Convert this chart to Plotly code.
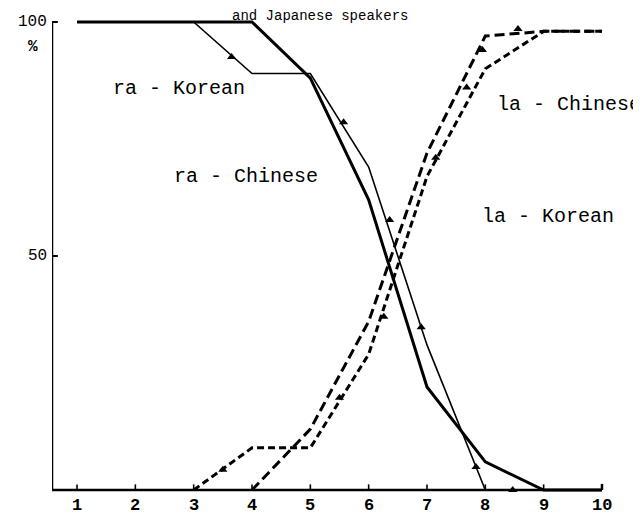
import plotly.graph_objects as go

# ---- data ----
steps = [1, 2, 3, 4, 5, 6, 7, 8, 9, 10]
ra_chinese = [100, 100, 100, 100, 88, 62, 22, 6, 0, 0]
ra_korean = [100, 100, 100, 89, 89, 69, 31, 0, 0, 0]
la_korean = [None, None, 0, 9, 9, 29, 67, 90, 98, 98]
la_chinese = [None, None, None, 0, 13, 36, 72, 97, 98, 98]

ra_korean_mk_x = [3.65, 5.57, 6.36, 6.9, 7.84, 8.47]
ra_korean_mk_y = [92.5, 78.6, 57.7, 34.8, 4.9, 0]
la_korean_mk_x = [3.5, 5.5, 6.26, 7.15]
la_korean_mk_y = [4.3, 19.7, 37, 71]
la_chinese_mk_x = [7.68, 7.95, 8.56]
la_chinese_mk_y = [86, 94, 98.5]

x_tick_labels = [str(s) for s in steps]
y_ticks = [50, 100]
y_tick_labels = ["50", "100"]

title_text = "and Japanese speakers"
unit_text = "%"
labels = ["ra - Korean", "ra - Chinese", "la - Korean", "la - Chinese"]
label_x = [1.58, 2.63, 7.91, 8.17]
label_y = [85.9, 66.9, 58.5, 82.3]

FONT = "Liberation Mono"
X0, X1 = 0.571, 10.669
Y0, Y1 = -1.07, 102.14
PLOT_W, PLOT_H = 589, 483  # plot area in pixels

fig = go.Figure()

fig.add_trace(go.Scatter(x=steps, y=ra_chinese, mode="lines",
                         line=dict(color="black", width=3), name="ra - Chinese"))
fig.add_trace(go.Scatter(x=steps, y=ra_korean, mode="lines",
                         line=dict(color="black", width=1.6), name="ra - Korean"))
fig.add_trace(go.Scatter(x=steps, y=la_korean, mode="lines",
                         line=dict(color="black", width=3, dash="7px,4px"), name="la - Korean"))
fig.add_trace(go.Scatter(x=steps, y=la_chinese, mode="lines",
                         line=dict(color="black", width=3, dash="10px,5px"), name="la - Chinese"))

for mx, my in [(ra_korean_mk_x, ra_korean_mk_y), (la_korean_mk_x, la_korean_mk_y),
               (la_chinese_mk_x, la_chinese_mk_y)]:
    fig.add_trace(go.Scatter(x=mx, y=my, mode="markers", cliponaxis=False,
                             marker=dict(symbol="triangle-up", size=8, color="black")))

shapes = []
# axes
shapes.append(dict(type="line", xref="x", yref="y", x0=X0, x1=10, y0=0, y1=0,
                   line=dict(color="black", width=2.5)))
shapes.append(dict(type="line", xref="x", yref="y", x0=10, x1=10, y0=0, y1=1.3,
                   line=dict(color="black", width=2.5)))
shapes.append(dict(type="line", xref="x", yref="y", x0=X0, x1=X0, y0=0, y1=100,
                   line=dict(color="black", width=2.5)))
for s in steps[:-1]:
    shapes.append(dict(type="line", xref="x", yref="y", x0=s, x1=s, y0=0, y1=1.2,
                       line=dict(color="black", width=1.6)))
for v in y_ticks:
    shapes.append(dict(type="line", xref="x", yref="y", x0=X0, x1=X0 + 0.1, y0=v, y1=v,
                       line=dict(color="black", width=2)))

annotations = []
for t, ax_, ay_ in zip(labels, label_x, label_y):
    annotations.append(dict(x=ax_, y=ay_, xref="x", yref="y", text=t, showarrow=False,
                            xanchor="left", yanchor="middle",
                            font=dict(family=FONT, size=20, color="black")))
# x tick labels
for s, t in zip(steps, x_tick_labels):
    annotations.append(dict(x=s, xref="x", y=-10.5 / PLOT_H, yref="paper",
                            text="<b>" + t + "</b>", showarrow=False,
                            xanchor="center", yanchor="middle",
                            font=dict(family=FONT, size=17, color="black")))
# y tick labels
for v, t in zip(y_ticks, y_tick_labels):
    annotations.append(dict(x=-3 / PLOT_W, xref="paper", y=v, yref="y",
                            text=t, showarrow=False,
                            xanchor="right", yanchor="middle",
                            font=dict(family=FONT, size=16, color="black")))
annotations.append(dict(x=(320 - 52) / PLOT_W, xref="paper", y=(495 - 15.5) / PLOT_H, yref="paper",
                        text=title_text, showarrow=False, xanchor="center", yanchor="middle",
                        font=dict(family=FONT, size=14, color="black")))
annotations.append(dict(x=(33 - 52) / PLOT_W, xref="paper", y=(495 - 47) / PLOT_H, yref="paper",
                        text="<b>" + unit_text + "</b>",
                        showarrow=False, xanchor="center", yanchor="middle",
                        font=dict(family=FONT, size=16, color="black")))

# the page places the figure 8px in from the top-left, so margins compensate
fig.update_layout(
    width=641, height=521,
    margin=dict(l=44, r=8, t=4, b=34),
    paper_bgcolor="white", plot_bgcolor="white",
    showlegend=False,
    shapes=shapes, annotations=annotations,
    xaxis=dict(range=[X0, X1], showgrid=False, zeroline=False, showline=False,
               showticklabels=False, ticks="", automargin=False),
    yaxis=dict(range=[Y0, Y1], showgrid=False, zeroline=False, showline=False,
               showticklabels=False, ticks="", automargin=False),
)

fig.write_html("out.html")
